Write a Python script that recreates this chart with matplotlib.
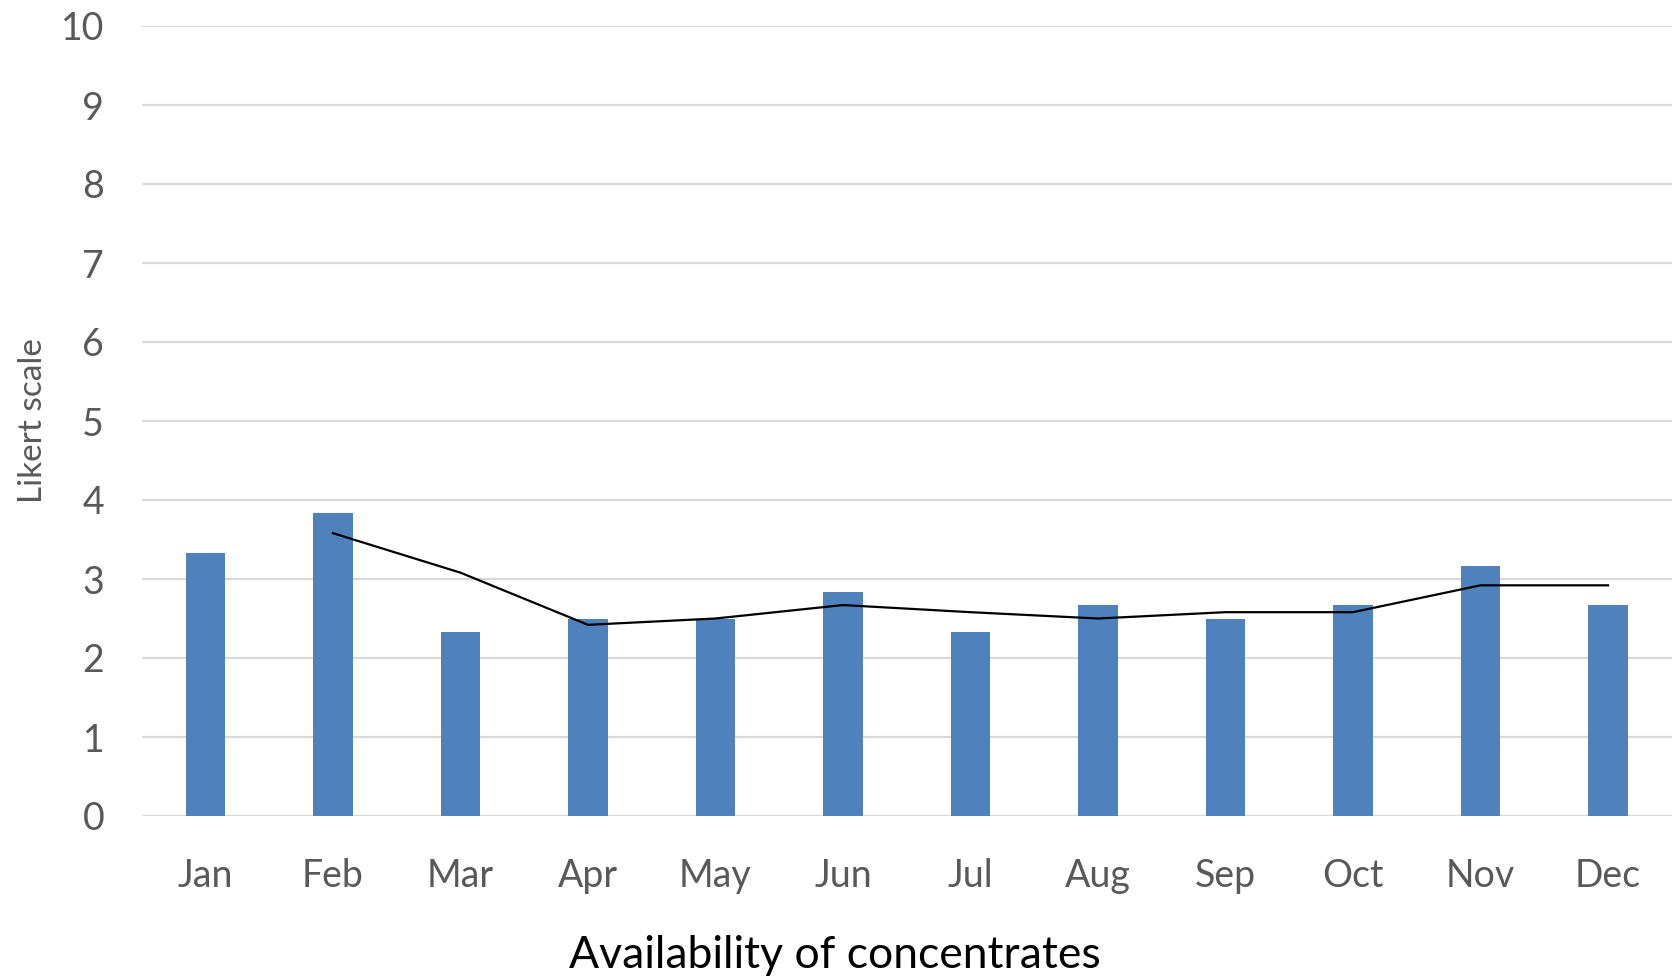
import matplotlib.pyplot as plt

months = ["Jan", "Feb", "Mar", "Apr", "May", "Jun",
          "Jul", "Aug", "Sep", "Oct", "Nov", "Dec"]
scores = [3.33, 3.83, 2.33, 2.5, 2.5, 2.83, 2.33, 2.67, 2.5, 2.67, 3.17, 2.67]
# two-month moving average, starts at Feb
trend_months = months[1:]
trend = [3.58, 3.08, 2.42, 2.5, 2.67, 2.58, 2.5, 2.58, 2.58, 2.92, 2.92]

plt.rcParams['font.family'] = ['Lato', 'DejaVu Sans']

fig = plt.figure(figsize=(16.75, 9.76), dpi=100)
ax = fig.add_axes([141.75 / 1675, 1 - 816 / 976, 1530 / 1675, 790 / 976])

x = list(range(len(months)))
ax.bar(x, scores, width=0.31, color="#4F81BD", zorder=2)
ax.plot([months.index(m) for m in trend_months], trend,
        color="black", linewidth=1.6, zorder=3)

ax.set_xlim(-0.5, len(months) - 0.5)
ax.set_ylim(0, 10)
ax.set_yticks(range(0, 11))
ax.set_xticks(x)
ax.set_xticklabels(months)
ax.grid(axis="y", color="#D9D9D9", linewidth=1.6, zorder=0)
ax.tick_params(length=0, labelsize=27, labelcolor="#595959")
ax.tick_params(axis="x", pad=30)
ax.tick_params(axis="y", pad=27)
for s in ax.spines.values():
    s.set_visible(False)

ax.set_xlabel("Availability of concentrates", fontsize=32, color="black")
ax.xaxis.set_label_coords(0.453, -0.150)
ax.set_ylabel("Likert scale", fontsize=24, color="#595959")
ax.yaxis.set_label_coords(-0.0615, 0.5)

fig.savefig("out.png", dpi=100)
